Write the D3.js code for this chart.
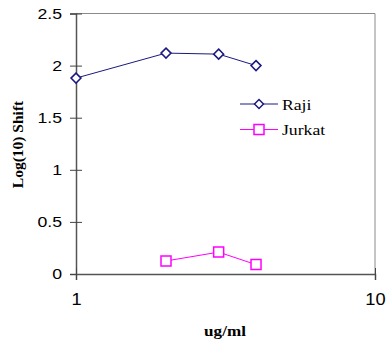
<!DOCTYPE html>
<html>
<head>
<meta charset="utf-8">
<script src="https://cdn.jsdelivr.net/npm/d3@7"></script>
<style>
  html, body { margin: 0; padding: 0; background: #fff; }
  svg { display: block; }
</style>
</head>
<body>
<svg id="chart" width="391" height="347"></svg>
<script>
// Concentration (ug/ml) and log10 shift for each cell line
const rajiDose = [1, 2, 3, 4];
const rajiShift = [1.88, 2.12, 2.11, 2.0];
const jurkatDose = [2, 3, 4];
const jurkatShift = [0.125, 0.21, 0.09];
const yTicks = [0, 0.5, 1, 1.5, 2, 2.5];
const xTicks = [1, 10];

const svg = d3.select("#chart");
const plotL = 76, plotR = 375, plotT = 13.5, plotB = 274;
const wide = 1.14; // horizontal stretch applied to horizontal labels

const x = d3.scaleLog().domain([1, 10]).range([plotL, plotR]);
const y = d3.scaleLinear().domain([0, 2.5]).range([plotB, plotT]);

// Frame: top and right borders
svg.append("path")
  .attr("d", `M${plotL},${plotT}H${plotR}V${plotB}`)
  .attr("fill", "none").attr("stroke", "#8a8a8a").attr("stroke-width", 1);

// Y axis
const yAxis = svg.append("g").attr("transform", `translate(${plotL},0)`)
  .call(d3.axisLeft(y).tickValues(yTicks).tickFormat(d3.format("")).tickSize(6).tickPadding(8));
yAxis.select(".domain").attr("stroke", "#555").attr("stroke-width", 1.5);
yAxis.selectAll(".tick line").attr("stroke", "#444").attr("x2", 6).attr("x1", -6);
yAxis.selectAll(".tick text")
  .attr("font-family", "Liberation Sans, Arial, sans-serif").attr("font-size", 15.5).attr("fill", "#000")
  .attr("x", -14 / wide)
  .attr("transform", `scale(${wide},1)`);

// X axis
const xAxis = svg.append("g").attr("transform", `translate(0,${plotB})`)
  .call(d3.axisBottom(x).tickValues(xTicks).tickFormat(d3.format("")).tickSize(6).tickPadding(14));
xAxis.select(".domain").attr("stroke", "#555").attr("stroke-width", 1.5);
xAxis.selectAll(".tick line").attr("stroke", "#444").attr("y1", -6).attr("y2", 6);
xAxis.selectAll(".tick text")
  .attr("font-family", "Liberation Sans, Arial, sans-serif").attr("font-size", 16).attr("fill", "#000")
  .attr("transform", `scale(${wide},1)`);

// Axis titles
svg.append("text")
  .attr("transform", `translate(225,336) scale(${wide},1)`)
  .attr("text-anchor", "middle")
  .attr("font-family", "Liberation Serif, Times New Roman, serif")
  .attr("font-weight", "bold").attr("font-size", 15)
  .text("ug/ml");
svg.append("text")
  .attr("transform", `translate(23,144.5) rotate(-90)`)
  .attr("text-anchor", "middle")
  .attr("font-family", "Liberation Serif, Times New Roman, serif")
  .attr("font-weight", "bold").attr("font-size", 15.5)
  .text("Log(10) Shift");

const raji = rajiDose.map((d, i) => [d, rajiShift[i]]);
const jurkat = jurkatDose.map((d, i) => [d, jurkatShift[i]]);
const line = d3.line().x(d => x(d[0])).y(d => y(d[1]));

const rajiColor = "#1a1a80", jurkatColor = "#ff00ff";

svg.append("path").datum(raji).attr("d", line)
  .attr("fill", "none").attr("stroke", rajiColor).attr("stroke-width", 1);
svg.append("path").datum(jurkat).attr("d", line)
  .attr("fill", "none").attr("stroke", jurkatColor).attr("stroke-width", 1);

const diamond = (cx, cy, r) => `M${cx},${cy - r}L${cx + r},${cy}L${cx},${cy + r}L${cx - r},${cy}Z`;
const square = (cx, cy, h) => `M${cx - h},${cy - h}H${cx + h}V${cy + h}H${cx - h}Z`;

svg.selectAll(".raji-pt").data(raji).enter().append("path")
  .attr("class", "raji-pt")
  .attr("d", d => diamond(x(d[0]), y(d[1]), 5))
  .attr("fill", "#fff").attr("stroke", rajiColor).attr("stroke-width", 1.5);
svg.selectAll(".jurkat-pt").data(jurkat).enter().append("path")
  .attr("class", "jurkat-pt")
  .attr("d", d => square(x(d[0]), y(d[1]), 5))
  .attr("fill", "#fff").attr("stroke", jurkatColor).attr("stroke-width", 1.5);

// Legend
const legend = [
  { name: "Raji", color: rajiColor, shape: diamond, size: 4.5 },
  { name: "Jurkat", color: jurkatColor, shape: square, size: 5 }
];
legend.forEach((s, i) => {
  const ly = 104 + i * 25.5;
  svg.append("line").attr("x1", 240).attr("x2", 278).attr("y1", ly).attr("y2", ly)
    .attr("stroke", s.color).attr("stroke-width", 1);
  svg.append("path").attr("d", s.shape(259, ly, s.size))
    .attr("fill", "#fff").attr("stroke", s.color).attr("stroke-width", 1.5);
  svg.append("text").attr("transform", `translate(282,${ly + 5.5}) scale(${wide},1)`)
    .attr("font-family", "Liberation Serif, Times New Roman, serif").attr("font-size", 15.5)
    .text(s.name);
});
</script>
</body>
</html>
